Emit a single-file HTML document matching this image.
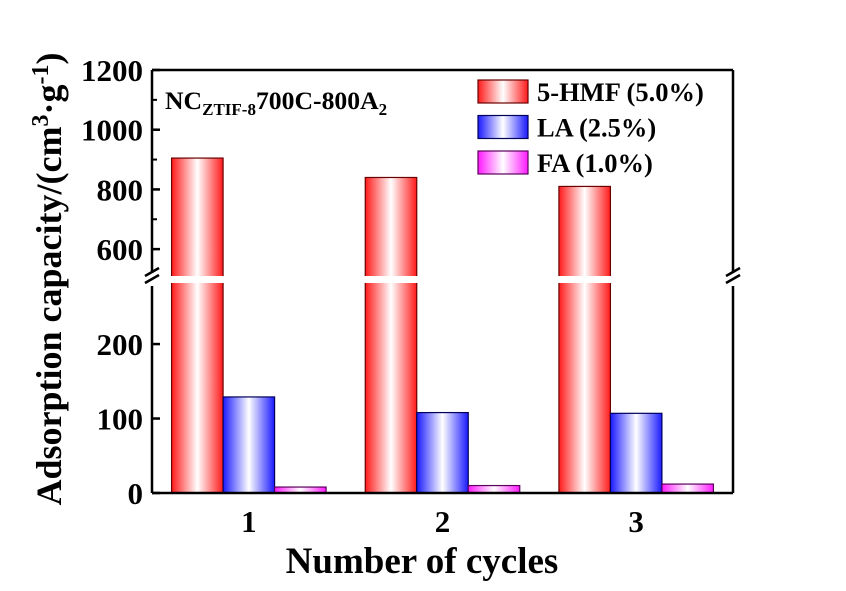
<!DOCTYPE html>
<html><head><meta charset="utf-8"><style>
html,body{margin:0;padding:0;background:#fff;width:846px;height:591px;overflow:hidden}
svg text{font-family:"Liberation Serif",serif;font-weight:bold;fill:#000}
</style></head><body>
<svg id="chart" width="846" height="591">
<defs>
<linearGradient id="gr" x1="0" x2="1"><stop offset="0" stop-color="#ff1a1a"/><stop offset="0.5" stop-color="#fff"/><stop offset="1" stop-color="#ff1a1a"/></linearGradient>
<linearGradient id="gb" x1="0" x2="1"><stop offset="0" stop-color="#1a1aff"/><stop offset="0.5" stop-color="#fff"/><stop offset="1" stop-color="#1a1aff"/></linearGradient>
<linearGradient id="gp" x1="0" x2="1"><stop offset="0" stop-color="#ff1aff"/><stop offset="0.5" stop-color="#fff"/><stop offset="1" stop-color="#ff1aff"/></linearGradient>
</defs>
<g id="bars"></g>
<g id="axes"></g>
<text x="165" y="109" font-size="25.7">NC<tspan font-size="17" dy="6">ZTIF-8</tspan><tspan dy="-6">700C-800A</tspan><tspan font-size="17" dy="6">2</tspan></text>
<g id="legend"></g>
<text transform="translate(61,279) rotate(-90)" text-anchor="middle" font-size="36">Adsorption capacity/(cm<tspan font-size="24" dy="-13">3</tspan><tspan dy="13">·g</tspan><tspan font-size="24" dy="-13">-1</tspan><tspan dy="13">)</tspan></text>
<text x="422" y="573" text-anchor="middle" font-size="37">Number of cycles</text>
</svg>
<script>
const categories=["1","2","3"];
const series=["5-HMF (5.0%)","LA (2.5%)","FA (1.0%)"];
const hmf=[905,840,810];
const la=[129,108,107];
const fa=[8,10,12];
const upperTicks=[600,800,1000,1200];
const lowerTicks=[0,100,200];
const NS="http://www.w3.org/2000/svg";
const L=152,R=733,T=70,B=493,BRK_TOP=276,BRK_BOT=283;
const upMin=510,upMax=1200,loMax=282;
function yS(v){ if(v<=loMax) return B-(v/loMax)*(B-BRK_BOT); return BRK_TOP-(v-upMin)/(upMax-upMin)*(BRK_TOP-T);}
function xS(i){return L+(i+0.5)*(R-L)/3;}
const bw=51.5;
function mk(tag,attrs,parent){const e=document.createElementNS(NS,tag);for(const k in attrs)e.setAttribute(k,attrs[k]);parent.appendChild(e);return e;}
const bars=document.getElementById('bars'),axes=document.getElementById('axes'),leg=document.getElementById('legend');
const data=[hmf,la,fa],fills=["url(#gr)","url(#gb)","url(#gp)"],strokes=["#6a0000","#00005a","#5a005a"],names=["bar-5hmf","bar-la","bar-fa"];
categories.forEach((c,i)=>{
  data.forEach((arr,s)=>{
    const x=xS(i)+(s-1.5)*bw, y=yS(arr[i]);
    const r=mk('rect',{x:x,y:y,width:bw,height:B-y,fill:fills[s],stroke:strokes[s],'stroke-width':1.2},bars);
    
    
  });
  const t=mk('text',{x:xS(i),y:532,'text-anchor':'middle','font-size':31},axes);t.textContent=c;
  
  
});
const gap=mk('rect',{x:L+2,y:BRK_TOP,width:R-L-4,height:BRK_BOT-BRK_TOP,fill:'#fff'},bars);


const lines=[[L,T,R,T],[R,T,R,BRK_TOP-3],[R,BRK_BOT+3,R,B],[L,B,R,B],[L,T,L,BRK_TOP-3],[L,BRK_BOT+3,L,B]];
lines.forEach(l=>{const e=mk('line',{x1:l[0],y1:l[1],x2:l[2],y2:l[3],stroke:'#000','stroke-width':2.5},axes);

});
[L,R].forEach(x=>{[BRK_TOP-4,BRK_TOP+3].forEach(y=>{const e=mk('line',{x1:x-7,y1:y+4,x2:x+7,y2:y-4,stroke:'#000','stroke-width':2.5},axes);

});});
upperTicks.concat(lowerTicks).forEach(v=>{
  const y=yS(v);
  mk('line',{x1:L,y1:y,x2:L+8,y2:y,stroke:'#000','stroke-width':2.5},axes);
  const t=mk('text',{x:L-9,y:y+11,'text-anchor':'end','font-size':31},axes);t.textContent=v;
  
  
});
[700,900,1100].forEach(v=>{mk('line',{x1:L,y1:yS(v),x2:L+5,y2:yS(v),stroke:'#000','stroke-width':2},axes);});
series.forEach((s,k)=>{
  const y=80+k*35.5;
  const r=mk('rect',{x:478,y:y,width:50,height:23,fill:fills[k],stroke:strokes[k],'stroke-width':1.2},leg);
  
  
  const t=mk('text',{x:537,y:y+21,'font-size':26.5},leg);t.textContent=s;
  
  
});
</script>
</body></html>
